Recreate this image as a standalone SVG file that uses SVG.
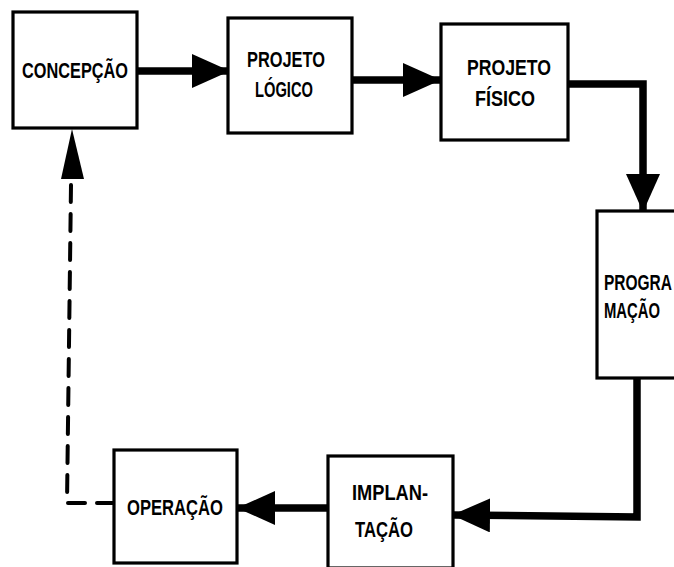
<svg xmlns="http://www.w3.org/2000/svg" width="674" height="567" viewBox="0 0 674 567">
<style>
.box{fill:#fff;stroke:#000;stroke-width:3.2}
.lbl{font-family:"Liberation Sans Narrow","Liberation Sans",Arial,sans-serif;font-weight:bold;font-size:22px;fill:#000}
.flow{fill:none;stroke:#000;stroke-width:7.5;stroke-linejoin:miter}
.dash{fill:none;stroke:#000;stroke-width:4;stroke-dasharray:17 12;stroke-linecap:round}
</style>
<defs>
<marker id="ah" markerUnits="userSpaceOnUse" viewBox="0 0 38 34" markerWidth="38" markerHeight="34" refX="37" refY="17" orient="auto">
<path d="M0,0 L38,17 L0,34 Z" fill="#000"/>
</marker>
</defs>
<rect width="674" height="567" fill="#fff"/>
<g id="connectors">
<path class="flow" d="M137,71 L229,71" marker-end="url(#ah)"/>
<path class="flow" d="M352,80 L440,80" marker-end="url(#ah)"/>
<path class="flow" d="M568,84 L643,84 L643,211" marker-end="url(#ah)"/>
<path class="flow" d="M637,378 L637,517 L453,515" marker-end="url(#ah)"/>
<path class="flow" d="M328,508 L238,508" marker-end="url(#ah)"/>
<path class="dash" d="M114,503 L67,503 L71,185"/>
<path d="M61,179 L84,179 L72,129 Z" fill="#000"/>
</g>
<g id="concepcao">
<rect class="box" x="13" y="12" width="124" height="116"/>
<text class="lbl" x="22" y="78" textLength="106" lengthAdjust="spacingAndGlyphs">CONCEPÇÃO</text>
</g>
<g id="projeto-logico">
<rect class="box" x="228" y="18" width="124" height="115"/>
<text class="lbl" x="247" y="67" textLength="78" lengthAdjust="spacingAndGlyphs">PROJETO</text>
<text class="lbl" x="255" y="97" textLength="58" lengthAdjust="spacingAndGlyphs">LÓGICO</text>
</g>
<g id="projeto-fisico">
<rect class="box" x="441" y="24" width="127" height="116"/>
<text class="lbl" x="467" y="75" textLength="84" lengthAdjust="spacingAndGlyphs">PROJETO</text>
<text class="lbl" x="475" y="106" textLength="60" lengthAdjust="spacingAndGlyphs">FÍSICO</text>
</g>
<g id="programacao">
<rect class="box" x="597" y="211" width="90" height="167"/>
<text class="lbl" x="604" y="290" textLength="68" lengthAdjust="spacingAndGlyphs">PROGRA</text>
<text class="lbl" x="604" y="318" textLength="56" lengthAdjust="spacingAndGlyphs">MAÇÃO</text>
</g>
<g id="implantacao">
<rect class="box" x="328" y="456" width="125" height="112"/>
<text class="lbl" x="352" y="500" textLength="76" lengthAdjust="spacingAndGlyphs">IMPLAN-</text>
<text class="lbl" x="355" y="537" textLength="58" lengthAdjust="spacingAndGlyphs">TAÇÃO</text>
</g>
<g id="operacao">
<rect class="box" x="114" y="450" width="123" height="113"/>
<text class="lbl" x="127" y="515" textLength="96" lengthAdjust="spacingAndGlyphs">OPERAÇÃO</text>
</g>
</svg>
